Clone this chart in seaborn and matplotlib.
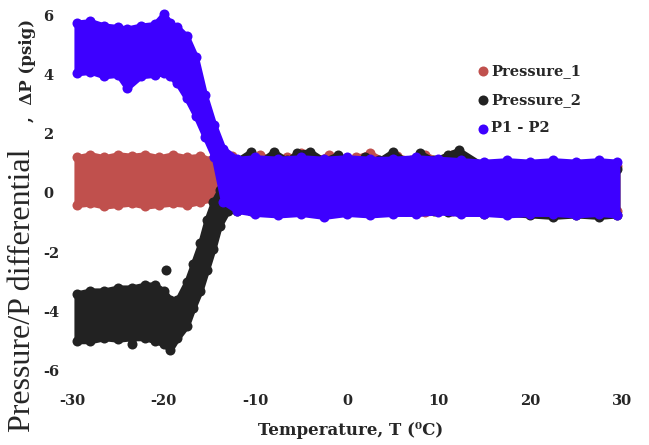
import numpy as np
import pandas as pd
import matplotlib
matplotlib.use("Agg")
import matplotlib.pyplot as plt
import seaborn as sns

# envelope of each point cloud (dot centres), psig vs degC
p1_temp = [-29.5, -28, -26.5, -25, -23.5, -22, -20.5, -19, -17.5, -16, -14.8,
           -12.5, -11, -9.5, -8, -6.5, -5, -3.5, -2, -0.5, 1, 2.5, 4, 5.5, 7, 8.5, 10, 11.5,
           13, 15, 17.5, 20, 22.5, 25, 27.5, 29.5]
p1_high = [1.2, 1.3, 1.2, 1.3, 1.25, 1.3, 1.2, 1.3, 1.2, 1.25, 1.1,
           1.25, 1.1, 1.3, 1.1, 1.2, 1.35, 1.1, 1.3, 1.1, 1.2, 1.35, 1.1, 1.25, 1.1, 1.3, 1.1, 1.3,
           1.0, 1.0, 0.9, 0.9, 0.95, 0.9, 0.9, 0.9]
p1_low = [-0.4, -0.35, -0.45, -0.4, -0.35, -0.45, -0.4, -0.35, -0.4, -0.3, -0.2,
          -0.5, -0.55, -0.55, -0.6, -0.55, -0.55, -0.6, -0.55, -0.55, -0.6, -0.6, -0.6, -0.6,
          -0.6, -0.65, -0.6, -0.6, -0.6, -0.6, -0.6, -0.6, -0.65, -0.6, -0.6, -0.6]

p2_temp = [-29.5, -28, -26.5, -25, -23.5, -22, -21, -20, -19.3, -18.5, -17.5, -16.8,
           -16, -15.3, -14.6, -13.9, -13, -12, -10.5, -9.5, -8, -6.5, -5.5, -4, -2.5, -1, 0.5,
           2, 3.5, 5, 6.5, 8, 9.5, 11, 12.2, 15, 17.5, 20, 22.5, 25, 27.5, 29.5]
p2_high = [-3.4, -3.3, -3.3, -3.2, -3.2, -3.1, -3.1, -3.3, -3.6, -3.6, -3.0, -2.4,
           -1.7, -0.9, -0.3, 0.1, 0.6, 1.1, 1.4, 1.05, 1.4, 1.1, 1.35, 1.4, 1.1, 1.3, 1.05,
           1.2, 1.1, 1.4, 1.05, 1.35, 1.1, 1.3, 1.45, 0.9, 0.85, 0.85, 0.85, 0.85, 0.8, 0.8]
p2_low = [-5.0, -5.0, -4.9, -4.95, -4.9, -4.9, -5.0, -5.1, -5.3, -4.9, -4.5, -3.9,
          -3.3, -2.6, -1.9, -1.1, -0.6, -0.6, -0.6, -0.6, -0.6, -0.6, -0.6, -0.6, -0.6, -0.6,
          -0.6, -0.6, -0.6, -0.6, -0.6, -0.6, -0.6, -0.65, -0.65, -0.7, -0.7, -0.75, -0.8,
          -0.75, -0.8, -0.75]
p2_out_temp = [-19.8, -23.5]
p2_out_val = [-2.6, -5.1]

dp_temp = [-29.5, -28, -26.5, -25, -24, -22.5, -21, -20, -19.3, -18.5, -17.5, -16.5,
           -15.5, -14.5, -13.5, -12, -10, -7.5, -5, -2.5, 0, 2.5, 5, 7.5, 10, 12.5,
           15, 17.5, 20, 22.5, 25, 27.5, 29.5]
dp_high = [5.75, 5.8, 5.65, 5.6, 5.55, 5.65, 5.7, 6.05, 5.75, 5.6, 5.3, 4.6,
           3.3, 2.3, 1.5, 1.15, 1.2, 1.15, 1.2, 1.15, 1.2, 1.15, 1.15, 1.2, 1.15, 1.1,
           1.05, 1.1, 1.05, 1.1, 1.05, 1.1, 1.05]
dp_low = [4.05, 4.1, 3.95, 4.0, 3.55, 3.95, 4.0, 4.05, 3.95, 3.7, 3.2, 2.6,
          1.9, 1.2, -0.3, -0.6, -0.7, -0.75, -0.7, -0.8, -0.7, -0.75, -0.7, -0.7, -0.65,
          -0.7, -0.7, -0.75, -0.7, -0.7, -0.75, -0.7, -0.75]

series_names = ["Pressure_1", "Pressure_2", "P1 - P2"]
series_colors = ["#c0504d", "#222222", "#3d00ff"]

x_ticks = [-30, -20, -10, 0, 10, 20, 30]
x_labels = ["-30", "-20", "-10", "0", "10", "20", "30"]
y_ticks = [6, 4, 2, 0, -2, -4, -6]
y_labels = ["6", "4", "2", "0", "-2", "-4", "-6"]

sns.set_style("white")
fig = plt.figure(figsize=(6.49, 4.45), dpi=100)
ax = fig.add_axes([0.097, 0.134, 0.875, 0.858])

clouds = [
    (p1_temp, p1_high, p1_low, [], []),
    (p2_temp, p2_high, p2_low, p2_out_temp, p2_out_val),
    (dp_temp, dp_high, dp_low, [], []),
]
for i, (t, hi, lo, ot, ov) in enumerate(clouds):
    z = i + 1
    ax.fill_between(t, lo, hi, color=series_colors[i], linewidth=4,
                    edgecolor=series_colors[i], zorder=z)
    df = pd.DataFrame({"T": list(t) + list(t) + list(ot),
                       "P": list(hi) + list(lo) + list(ov)})
    sns.scatterplot(data=df, x="T", y="P", ax=ax, color=series_colors[i], s=52,
                    linewidth=0, label=series_names[i], zorder=z + 0.5)

ax.set_xlim(-31, 31)
ax.set_ylim(-6.5, 6.4)
ax.set_xticks(x_ticks)
ax.set_xticklabels(x_labels, fontfamily="DejaVu Serif", fontweight="bold", fontsize=10.5)
ax.set_yticks(y_ticks)
ax.set_yticklabels(y_labels, fontfamily="DejaVu Serif", fontweight="bold", fontsize=10.5,
                   ha="left")
ax.tick_params(axis="y", length=0, pad=14)
ax.tick_params(axis="x", length=0, pad=6)
sns.despine(ax=ax, left=True, bottom=True)
ax.set_xlabel("")
ax.set_ylabel("")

fig.text(0.54, 0.033, "Temperature, T (\u2070C)", ha="center", va="center",
         family=["DejaVu Serif", "DejaVu Sans"], fontweight="bold", fontsize=12)
fig.text(0.035, 1 - 290 / 445, "Pressure/P differential", rotation=90,
         ha="center", va="center", family="Liberation Serif", fontsize=23)
fig.text(0.043, 1 - 70 / 445, ",  \u0394P (psig)", rotation=90,
         ha="center", va="center", family="DejaVu Serif", fontweight="bold", fontsize=12)

leg = ax.legend(loc="upper left", bbox_to_anchor=(468 / 649, 1 - 57 / 445),
                bbox_transform=fig.transFigure, frameon=False, borderpad=0,
                handletextpad=0.1, labelspacing=1.0, handlelength=1.0,
                prop={"family": "DejaVu Serif", "weight": "bold", "size": 10.5})

fig.savefig("out.png", dpi=100)
